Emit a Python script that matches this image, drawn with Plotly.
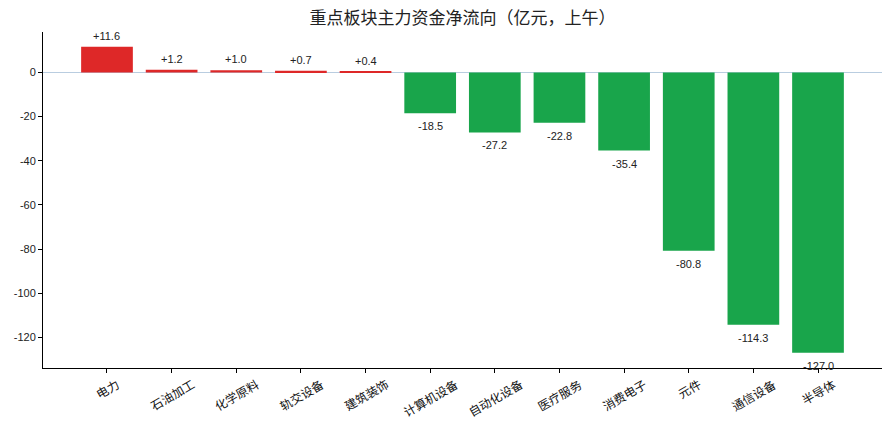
import plotly.graph_objects as go

categories = ["电力", "石油加工", "化学原料", "轨交设备", "建筑装饰", "计算机设备",
              "自动化设备", "医疗服务", "消费电子", "元件", "通信设备", "半导体"]
values = [11.6, 1.2, 1.0, 0.7, 0.4, -18.5, -27.2, -22.8, -35.4, -80.8, -114.3, -127.0]
y_ticks = [0, -20, -40, -60, -80, -100, -120]

RED = "#de2828"
GREEN = "#19a54b"
CJK = "Noto Sans CJK SC"
LAT = "Liberation Sans, Arial"

colors = [RED if v >= 0 else GREEN for v in values]
xs = list(range(len(categories)))

fig = go.Figure()
fig.add_trace(go.Bar(x=xs, y=values, marker_color=colors, width=0.8,
                     marker_line_width=0, hoverinfo="skip"))

W, H = 890, 423
ml, mr, mt, mb = 43, 8, 32, 55

annotations = []
for i, v in enumerate(values):
    lab = f"{v:+.1f}"
    if v >= 0:
        annotations.append(dict(x=i, y=v, xref="x", yref="y", text=lab, showarrow=False,
                                yanchor="bottom", yshift=3,
                                font=dict(family=LAT, size=11, color="#222")))
    else:
        annotations.append(dict(x=i, y=v, xref="x", yref="y", text=lab, showarrow=False,
                                yanchor="top", yshift=-5,
                                font=dict(family=LAT, size=11, color="#222")))

plot_h = H - mt - mb
label_top_px = 372 - mt
y_paper = 1 - label_top_px / plot_h
for i, c in enumerate(categories):
    annotations.append(dict(x=i, y=y_paper, xref="x", yref="paper", text=c, showarrow=False,
                            textangle=-30, xanchor="center", yanchor="top",
                            font=dict(family=CJK, size=12, color="#111")))

fig.update_layout(
    width=W, height=H,
    margin=dict(l=ml, r=mr, t=mt, b=mb),
    paper_bgcolor="white", plot_bgcolor="white",
    showlegend=False,
    title=dict(text="重点板块主力资金净流向（亿元，上午）", x=0.5, xanchor="center",
               xref="paper", y=1 - 18 / H, yanchor="middle",
               font=dict(family=CJK, size=17, color="#222")),
    annotations=annotations,
    bargap=0.2,
)

fig.update_xaxes(range=[-0.99, 11.99], tickmode="array", tickvals=xs, ticktext=[""] * len(xs),
                 showline=True, linecolor="black", linewidth=1, ticks="outside", ticklen=4,
                 tickcolor="black", showgrid=False, zeroline=False, mirror=False)
fig.update_yaxes(range=[-133.9, 18.3], tickmode="array", tickvals=y_ticks,
                 ticktext=[str(t) for t in y_ticks],
                 showline=True, linecolor="black", linewidth=1, ticks="outside", ticklen=4,
                 tickcolor="black", showgrid=False, zeroline=True, zerolinecolor="#b9cde0",
                 zerolinewidth=1.2, tickfont=dict(family=LAT, size=11, color="#222"))

fig.write_html("out.html")
